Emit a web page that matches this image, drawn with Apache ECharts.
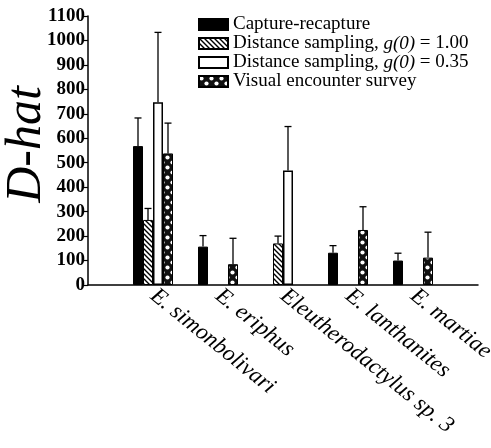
<!DOCTYPE html>
<html>
<head>
<meta charset="utf-8">
<script src="https://cdn.jsdelivr.net/npm/echarts@6/dist/echarts.min.js"></script>
<style>
  html, body { margin: 0; padding: 0; background: #fff; }
  #chart { width: 491px; height: 448px; }
</style>
</head>
<body>
<div id="chart"></div>
<script>
// Species (x categories)
const categories = ['E. simonbolivari', 'E. eriphus', 'Eleutherodactylus sp. 3', 'E. lanthanites', 'E. martiae'];

// Estimated density (D-hat) per method, with the upper end of each error bar
const captureRecapture      = [568, 157, null, 132, 100];
const captureRecaptureUpper = [683, 202, null, 161, 130];
const distance100           = [266, null, 170, null, null];
const distance100Upper      = [313, null, 200, null, null];
const distance035           = [747, null, 468, null, null];
const distance035Upper      = [1033, null, 648, null, null];
const visualEncounter       = [538, 85, null, 225, 112];
const visualEncounterUpper  = [662, 191, null, 320, 216];

// Y axis range
const yMin = 0, yMax = 1100, yStep = 100;

const seriesNames = [
  'Capture-recapture',
  'Distance sampling, g(0) = 1.00',
  'Distance sampling, g(0) = 0.35',
  'Visual encounter survey'
];

const SERIF = '"Liberation Serif", "DejaVu Serif", serif';
const BAR_W = 10;

// species sit at positions 1..5; the axis runs from 0 to 6
const pos = i => i + 1;

function hatchPattern() {
  const c = document.createElement('canvas');
  c.width = 5; c.height = 5;
  const g = c.getContext('2d');
  g.fillStyle = '#fff';
  g.fillRect(0, 0, 5, 5);
  g.strokeStyle = '#000';
  g.lineWidth = 1.4;
  g.beginPath();
  g.moveTo(-1, -1); g.lineTo(6, 6);
  g.moveTo(-1, 4); g.lineTo(1, 6);
  g.moveTo(4, -1); g.lineTo(6, 1);
  g.stroke();
  return { image: c, repeat: 'repeat' };
}

function spotPattern() {
  const c = document.createElement('canvas');
  c.width = 10; c.height = 10;
  const g = c.getContext('2d');
  g.fillStyle = '#111';
  g.fillRect(0, 0, 10, 10);
  g.fillStyle = '#fff';
  [[2.5, 2.5], [7.5, 7.5]].forEach(([x, y]) => {
    g.beginPath();
    g.arc(x, y, 2.1, 0, Math.PI * 2);
    g.fill();
  });
  return { image: c, repeat: 'repeat' };
}

const styles = [
  { color: '#000', borderColor: '#000', borderWidth: 1 },
  { color: hatchPattern(), borderColor: '#000', borderWidth: 1 },
  { color: '#fff', borderColor: '#000', borderWidth: 1.5 },
  { color: spotPattern(), borderColor: '#000', borderWidth: 1 }
];

const values = [captureRecapture, distance100, distance035, visualEncounter];
const uppers = [captureRecaptureUpper, distance100Upper, distance035Upper, visualEncounterUpper];

const barSeries = values.map((vals, k) => ({
  name: seriesNames[k],
  type: 'bar',
  data: vals.map((v, i) => [pos(i), v]),
  barWidth: BAR_W,
  barGap: '0%',
  itemStyle: styles[k],
  z: 2
}));

// Upper error bars, placed over their own bar within each group
const errorSeries = values.map((vals, k) => ({
  type: 'custom',
  silent: true,
  z: 3,
  data: vals.map((v, i) => (v == null || uppers[k][i] == null) ? null : [pos(i), v, uppers[k][i]])
            .filter(d => d),
  encode: { x: 0, y: [1, 2] },
  renderItem: (params, api) => {
    const xv = api.value(0);
    const base = api.coord([xv, api.value(1)]);
    const top = api.coord([xv, api.value(2)]);
    const x = base[0] + (k - 1.5) * BAR_W;
    const cap = 3.5;
    const st = { stroke: '#000', lineWidth: 1.3 };
    return {
      type: 'group',
      children: [
        { type: 'line', shape: { x1: x, y1: base[1], x2: x, y2: top[1] }, style: st },
        { type: 'line', shape: { x1: x - cap, y1: top[1], x2: x + cap, y2: top[1] }, style: st }
      ]
    };
  }
}));

const chart = echarts.init(document.getElementById('chart'), null, { renderer: 'canvas' });

chart.setOption({
  backgroundColor: '#fff',
  animation: false,
  textStyle: { fontFamily: SERIF, color: '#000' },
  grid: {
    left: 88, right: 13, top: 16, bottom: 163,
    containLabel: false,
    outerBoundsMode: 'none'
  },
  legend: {
    data: seriesNames,
    orient: 'vertical',
    left: 198,
    top: 15,
    padding: 0,
    itemWidth: 29,
    itemHeight: 11,
    itemGap: 0,
    icon: 'rect',
    selectedMode: false,
    formatter: name => name.replace('g(0)', '{i|g(0)}'),
    textStyle: {
      fontFamily: SERIF,
      fontSize: 19,
      lineHeight: 17.5,
      color: '#000',
      rich: { i: { fontStyle: 'italic', fontFamily: SERIF, fontSize: 19, lineHeight: 17.5 } }
    }
  },
  xAxis: {
    type: 'value',
    min: 0,
    max: categories.length + 1,
    interval: 1,
    axisLine: { lineStyle: { color: '#000', width: 1.5 } },
    axisTick: { show: false },
    axisLabel: {
      rotate: -39,
      margin: 8,
      showMinLabel: true,
      showMaxLabel: true,
      formatter: v => categories[v - 1] || '',
      fontFamily: SERIF,
      fontStyle: 'italic',
      fontSize: 23,
      color: '#000'
    },
    splitLine: { show: false }
  },
  yAxis: {
    type: 'value',
    min: yMin,
    max: yMax,
    interval: yStep,
    name: 'D-hat',
    nameLocation: 'middle',
    nameGap: 36,
    nameMoveOverlap: false,
    nameTextStyle: {
      fontFamily: SERIF, fontStyle: 'italic', fontSize: 50, color: '#000',
      padding: [0, 0, 0, 12]
    },
    axisLine: { show: true, lineStyle: { color: '#000', width: 1.5 } },
    axisTick: { show: true, length: 4, lineStyle: { color: '#000', width: 1.2 } },
    axisLabel: {
      margin: 3,
      formatter: v => String(v),
      fontFamily: SERIF, fontWeight: 'bold', fontSize: 19, color: '#000'
    },
    splitLine: { show: false }
  },
  series: [...barSeries, ...errorSeries]
});
</script>
</body>
</html>
